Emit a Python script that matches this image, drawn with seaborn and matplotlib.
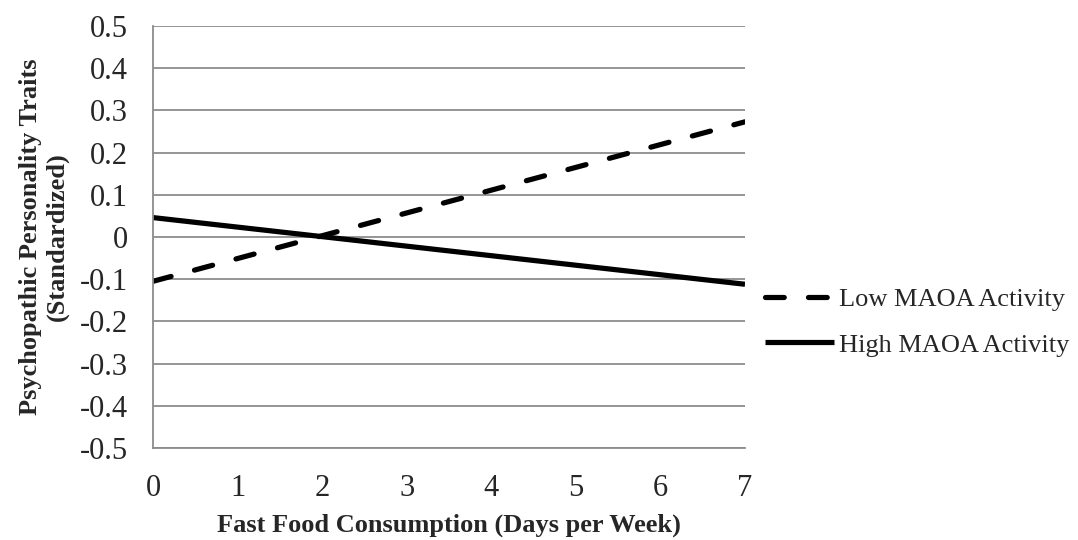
import pandas as pd
import matplotlib.pyplot as plt
import seaborn as sns

# Values
days = [0, 7]
low_maoa = [-0.105, 0.273]
high_maoa = [0.046, -0.112]
groups = ["Low MAOA Activity", "High MAOA Activity"]
y_ticks = [0.5, 0.4, 0.3, 0.2, 0.1, 0, -0.1, -0.2, -0.3, -0.4, -0.5]
y_tick_labels = ["0.5", "0.4", "0.3", "0.2", "0.1", "0", "-0.1", "-0.2", "-0.3", "-0.4", "-0.5"]

df = pd.DataFrame({
    "days": days + days,
    "value": low_maoa + high_maoa,
    "group": [groups[0]] * len(days) + [groups[1]] * len(days),
})

sns.set_style("white")
plt.rcParams["font.family"] = ["Liberation Serif", "DejaVu Serif"]
plt.rcParams["lines.dash_capstyle"] = "round"
plt.rcParams["lines.solid_capstyle"] = "butt"

fig = plt.figure(figsize=(10.78, 5.4), dpi=100)
ax = fig.add_axes([153 / 1078, 1 - 448 / 540, (745 - 153) / 1078, (448 - 26) / 540])

sns.lineplot(data=df, x="days", y="value", style="group", style_order=groups,
             dashes={groups[0]: (3.6, 4.65), groups[1]: ""}, color="black",
             linewidth=3.75, ax=ax)

grid_gray = "#8c8c8c"
ax.set_xlim(0, 7)
ax.set_ylim(-0.5, 0.5)
ax.set_yticks(y_ticks)
ax.set_yticklabels(y_tick_labels)
ax.set_xticks(range(0, 8))
ax.yaxis.grid(True, color=grid_gray, linewidth=1.3)
ax.xaxis.grid(False)
ax.set_axisbelow(True)
ax.tick_params(axis="both", length=0, labelsize=22)
ax.tick_params(axis="y", pad=18)
ax.tick_params(axis="x", pad=19)
for side in ["top", "right"]:
    ax.spines[side].set_visible(False)
for side in ["left", "bottom"]:
    ax.spines[side].set_color(grid_gray)
    ax.spines[side].set_linewidth(1.3)

ax.set_xlabel("Fast Food Consumption (Days per Week)", fontsize=19, fontweight="bold", labelpad=7)
ax.set_ylabel("Psychopathic Personality Traits\n(Standardized)", fontsize=19, fontweight="bold",
              labelpad=8, linespacing=1.2)

ax.legend(loc="center left", bbox_to_anchor=(765 / 1078, 1 - 322 / 540),
          bbox_transform=fig.transFigure, frameon=False, fontsize=19,
          handlelength=2.6, handletextpad=0.2, labelspacing=0.85,
          borderpad=0, borderaxespad=0)

fig.savefig("out.png", dpi=100)
